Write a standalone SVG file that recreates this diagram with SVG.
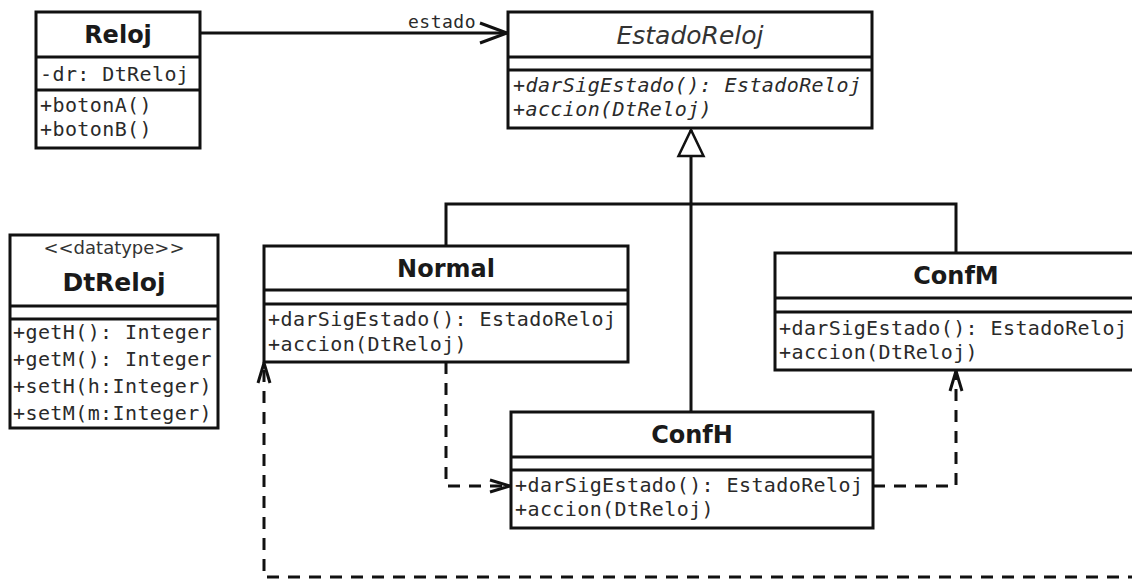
<svg xmlns="http://www.w3.org/2000/svg" width="1132" height="580" viewBox="0 0 1132 580">
  <style>
    .box { fill: #ffffff; stroke: #111111; stroke-width: 3; }
    .sep { stroke: #111111; stroke-width: 3; }
    .title { font-family: "DejaVu Sans", sans-serif; font-weight: bold; font-size: 24px; fill: #1a1a1a; text-anchor: middle; }
    .abstract { font-family: "DejaVu Sans", sans-serif; font-style: italic; font-size: 25px; fill: #333333; text-anchor: middle; }
    .stereo { font-family: "DejaVu Sans", sans-serif; font-size: 18px; fill: #333333; text-anchor: middle; }
    .member { font-family: "DejaVu Sans Mono", monospace; font-size: 20px; letter-spacing: 0.4px; fill: #2a2a2a; }
    .member.it { font-style: italic; }
    .label { font-family: "DejaVu Sans Mono", monospace; font-size: 18px; letter-spacing: 0.5px; fill: #2a2a2a; text-anchor: end; }
    .solid { fill: none; stroke: #111111; stroke-width: 3; }
    .dashed { fill: none; stroke: #111111; stroke-width: 3; stroke-dasharray: 12 9; }
  </style>
  <defs>
    <marker id="open-arrow" viewBox="-30 -14 34 28" refX="0" refY="0" markerWidth="34" markerHeight="28" markerUnits="userSpaceOnUse" orient="auto" overflow="visible">
      <path d="M -27 -10 L 0 0 L -27 10" fill="none" stroke="#111111" stroke-width="3"/>
    </marker>
    <marker id="dep-arrow" viewBox="-26 -10 30 20" refX="0" refY="0" markerWidth="30" markerHeight="20" markerUnits="userSpaceOnUse" orient="auto" overflow="visible">
      <path d="M -20 -6 L 0 0 L -20 6" fill="none" stroke="#111111" stroke-width="3"/>
    </marker>
    <marker id="inherit" viewBox="-28 -14 30 28" refX="0" refY="0" markerWidth="30" markerHeight="28" markerUnits="userSpaceOnUse" orient="auto" overflow="visible">
      <path d="M -26 -12.5 L 0 0 L -26 12.5 Z" fill="#ffffff" stroke="#111111" stroke-width="2.5"/>
    </marker>
  </defs>

  <rect width="1132" height="580" fill="#ffffff"/>

  <!-- connectors -->
  <g id="connectors">
    <!-- Reloj -> EstadoReloj association -->
    <path class="solid" d="M 200 33 H 507" marker-end="url(#open-arrow)"/>
    <text class="label" x="476" y="28">estado</text>
    <!-- generalization tree -->
    <path class="solid" d="M 691 412 V 130" marker-end="url(#inherit)"/>
    <path class="solid" d="M 446 246 V 204 H 956 V 253"/>
    <!-- state transitions -->
    <path class="dashed" d="M 446 362 V 486 H 510" marker-end="url(#dep-arrow)"/>
    <path class="dashed" d="M 873 486 H 956 V 371" marker-end="url(#dep-arrow)"/>
    <path class="dashed" d="M 1140 577 H 264 V 363" marker-end="url(#dep-arrow)"/>
  </g>

  <!-- Reloj -->
  <g id="reloj">
    <rect class="box" x="36" y="12" width="164" height="136"/>
    <line class="sep" x1="36" y1="57" x2="200" y2="57"/>
    <line class="sep" x1="36" y1="90" x2="200" y2="90"/>
    <text class="title" x="118" y="43">Reloj</text>
    <text class="member" x="40" y="81">-dr: DtReloj</text>
    <text class="member" x="40" y="112">+botonA()</text>
    <text class="member" x="40" y="136">+botonB()</text>
  </g>

  <!-- EstadoReloj (abstract) -->
  <g id="estado-reloj">
    <rect class="box" x="508" y="12" width="364" height="116"/>
    <line class="sep" x1="508" y1="57" x2="872" y2="57"/>
    <line class="sep" x1="508" y1="70" x2="872" y2="70"/>
    <text class="abstract" x="690" y="44">EstadoReloj</text>
    <text class="member it" x="513" y="92">+darSigEstado(): EstadoReloj</text>
    <text class="member it" x="513" y="116">+accion(DtReloj)</text>
  </g>

  <!-- DtReloj datatype -->
  <g id="dtreloj">
    <rect class="box" x="10" y="235" width="208" height="193"/>
    <line class="sep" x1="10" y1="306" x2="218" y2="306"/>
    <line class="sep" x1="10" y1="319" x2="218" y2="319"/>
    <text class="stereo" x="114" y="254">&lt;&lt;datatype&gt;&gt;</text>
    <text class="title" x="114" y="291" style="font-size:25px">DtReloj</text>
    <text class="member" x="13" y="339">+getH(): Integer</text>
    <text class="member" x="13" y="366">+getM(): Integer</text>
    <text class="member" x="13" y="393">+setH(h:Integer)</text>
    <text class="member" x="13" y="420">+setM(m:Integer)</text>
  </g>

  <!-- Normal -->
  <g id="normal">
    <rect class="box" x="264" y="246" width="364" height="116"/>
    <line class="sep" x1="264" y1="290" x2="628" y2="290"/>
    <line class="sep" x1="264" y1="304" x2="628" y2="304"/>
    <text class="title" x="446" y="277">Normal</text>
    <text class="member" x="268" y="326">+darSigEstado(): EstadoReloj</text>
    <text class="member" x="268" y="351">+accion(DtReloj)</text>
  </g>

  <!-- ConfM -->
  <g id="confm">
    <rect class="box" x="775" y="253" width="366" height="117"/>
    <line class="sep" x1="775" y1="298" x2="1141" y2="298"/>
    <line class="sep" x1="775" y1="312" x2="1141" y2="312"/>
    <text class="title" x="956" y="284">ConfM</text>
    <text class="member" x="779" y="335">+darSigEstado(): EstadoReloj</text>
    <text class="member" x="779" y="359">+accion(DtReloj)</text>
  </g>

  <!-- ConfH -->
  <g id="confh">
    <rect class="box" x="511" y="412" width="362" height="116"/>
    <line class="sep" x1="511" y1="457" x2="873" y2="457"/>
    <line class="sep" x1="511" y1="470" x2="873" y2="470"/>
    <text class="title" x="692" y="443">ConfH</text>
    <text class="member" x="515" y="492">+darSigEstado(): EstadoReloj</text>
    <text class="member" x="515" y="516">+accion(DtReloj)</text>
  </g>
</svg>
